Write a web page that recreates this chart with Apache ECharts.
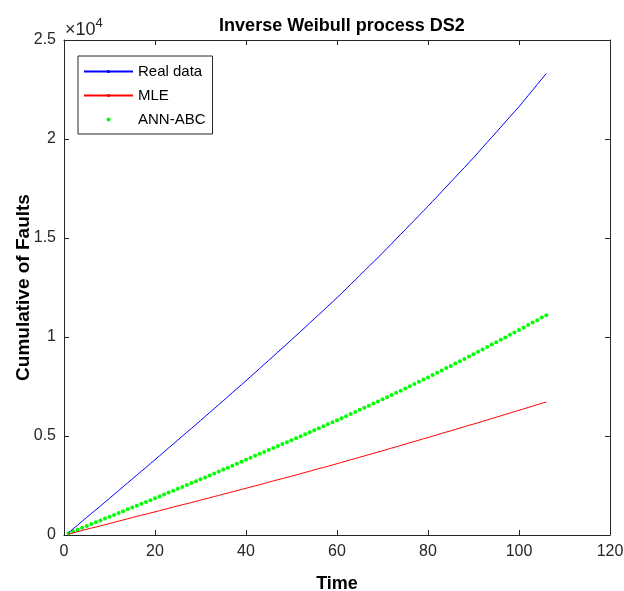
<!DOCTYPE html>
<html>
<head>
<meta charset="utf-8">
<script src="https://cdn.jsdelivr.net/npm/echarts@6/dist/echarts.min.js"></script>
<style>
html, body { margin: 0; padding: 0; background: #fff; }
#chart { width: 624px; height: 591px; }
</style>
</head>
<body>
<div id="chart"></div>
<script>
var times = [1, 2, 3, 4, 5, 6, 7, 8, 9, 10, 11, 12, 13, 14, 15, 16, 17, 18, 19, 20,
    21, 22, 23, 24, 25, 26, 27, 28, 29, 30, 31, 32, 33, 34, 35, 36, 37, 38, 39, 40,
    41, 42, 43, 44, 45, 46, 47, 48, 49, 50, 51, 52, 53, 54, 55, 56, 57, 58, 59, 60,
    61, 62, 63, 64, 65, 66, 67, 68, 69, 70, 71, 72, 73, 74, 75, 76, 77, 78, 79, 80,
    81, 82, 83, 84, 85, 86, 87, 88, 89, 90, 91, 92, 93, 94, 95, 96, 97, 98, 99, 100,
    101, 102, 103, 104, 105, 106];

var realData = [120, 310, 500, 700, 890, 1080, 1270, 1460, 1660, 1850,
    2050, 2240, 2440, 2630, 2830, 3020, 3220, 3410, 3610, 3800,
    4000, 4200, 4400, 4590, 4790, 4990, 5190, 5380, 5580, 5780,
    5980, 6180, 6380, 6580, 6780, 6980, 7190, 7390, 7590, 7790,
    8000, 8200, 8410, 8620, 8820, 9030, 9240, 9440, 9650, 9860,
    10070, 10280, 10490, 10710, 10920, 11130, 11340, 11560, 11770, 11980,
    12210, 12430, 12660, 12880, 13110, 13340, 13560, 13790, 14010, 14240,
    14480, 14710, 14950, 15190, 15420, 15660, 15890, 16130, 16370, 16600,
    16850, 17090, 17340, 17580, 17830, 18070, 18320, 18560, 18810, 19050,
    19310, 19570, 19830, 20080, 20340, 20600, 20860, 21120, 21380, 21630,
    21910, 22190, 22470, 22750, 23030, 23310];

var mle = [50, 110, 170, 230, 290, 350, 400, 460, 520, 580,
    640, 700, 760, 820, 880, 940, 1000, 1050, 1110, 1170,
    1230, 1290, 1350, 1410, 1470, 1530, 1580, 1640, 1700, 1760,
    1820, 1880, 1940, 2000, 2060, 2120, 2180, 2240, 2300, 2360,
    2420, 2480, 2540, 2600, 2670, 2730, 2790, 2850, 2910, 2970,
    3030, 3100, 3160, 3220, 3290, 3350, 3410, 3470, 3540, 3600,
    3670, 3730, 3800, 3860, 3930, 3990, 4060, 4120, 4190, 4250,
    4320, 4390, 4450, 4520, 4590, 4660, 4720, 4790, 4860, 4920,
    4990, 5060, 5130, 5200, 5260, 5330, 5400, 5470, 5540, 5600,
    5670, 5740, 5810, 5880, 5950, 6020, 6090, 6160, 6230, 6300,
    6370, 6440, 6510, 6580, 6650, 6720];

var annAbc = [90, 180, 270, 370, 460, 550, 640, 730, 830, 920,
    1010, 1110, 1200, 1300, 1390, 1480, 1580, 1670, 1760, 1860,
    1950, 2050, 2150, 2240, 2340, 2430, 2530, 2620, 2720, 2820,
    2910, 3010, 3110, 3210, 3310, 3400, 3500, 3600, 3700, 3800,
    3900, 4000, 4100, 4190, 4290, 4390, 4490, 4590, 4690, 4790,
    4890, 4990, 5090, 5190, 5290, 5390, 5490, 5590, 5690, 5790,
    5900, 6000, 6110, 6210, 6320, 6430, 6530, 6640, 6740, 6850,
    6960, 7070, 7180, 7290, 7400, 7510, 7630, 7740, 7850, 7960,
    8080, 8190, 8310, 8430, 8540, 8660, 8780, 8890, 9010, 9130,
    9250, 9370, 9490, 9620, 9740, 9860, 9980, 10110, 10230, 10350,
    10480, 10600, 10730, 10850, 10980, 11100];

function pairs(ys) {
    var out = [];
    for (var i = 0; i < times.length; i++) out.push([times[i], ys[i]]);
    return out;
}

var axisColor = '#262626';
var font = 'Liberation Sans, Arial, sans-serif';
var blue = '#0000ff', red = '#ff0000', green = '#00ff00';

var baseX = {
    type: 'value', min: 0, max: 120, interval: 20,
    axisLine: { show: true, onZero: false, lineStyle: { color: axisColor, width: 1 } },
    axisTick: { show: true, inside: true, length: 5, lineStyle: { color: axisColor } },
    splitLine: { show: false }
};
var baseY = {
    type: 'value', min: 0, max: 25000, interval: 5000,
    axisLine: { show: true, onZero: false, lineStyle: { color: axisColor, width: 1 } },
    axisTick: { show: true, inside: true, length: 5, lineStyle: { color: axisColor } },
    splitLine: { show: false }
};

var option = {
    animation: false,
    backgroundColor: '#fff',
    title: {
        text: 'Inverse Weibull process DS2',
        left: 337, top: 12, textAlign: 'center',
        textStyle: { fontFamily: font, fontSize: 18, fontWeight: 'bold', color: '#000' }
    },
    grid: { left: 64, right: 14, top: 40, bottom: 56, containLabel: false, outerBoundsMode: 'none' },
    legend: {
        orient: 'vertical', left: 78, top: 56,
        padding: [8, 7, 7, 5],
        itemWidth: 49, itemHeight: 4, itemGap: 9,
        borderColor: axisColor, borderWidth: 1,
        backgroundColor: '#fff',
        textStyle: { fontFamily: font, fontSize: 15, color: '#000', lineHeight: 15 },
        data: [
            { name: 'Real data' },
            { name: 'MLE' },
            { name: 'ANN-ABC', icon: 'circle' }
        ]
    },
    xAxis: [Object.assign({}, baseX, {
        position: 'bottom',
        name: 'Time', nameLocation: 'middle', nameGap: 40, nameMoveOverlap: false,
        nameTextStyle: { fontFamily: font, fontSize: 18, fontWeight: 'bold', color: '#000' },
        axisLabel: { margin: 9, fontFamily: font, fontSize: 16, color: axisColor }
    }), Object.assign({}, baseX, {
        position: 'top', axisLabel: { show: false }
    })],
    yAxis: [Object.assign({}, baseY, {
        position: 'left',
        name: 'Cumulative of Faults', nameLocation: 'middle', nameGap: 31, nameMoveOverlap: false,
        nameTextStyle: { fontFamily: font, fontSize: 19, fontWeight: 'bold', color: '#000' },
        axisLabel: {
            margin: 8, fontFamily: font, fontSize: 16, color: axisColor,
            formatter: function (v) { return String(v / 10000); }
        }
    }), Object.assign({}, baseY, {
        position: 'right', axisLabel: { show: false }
    })],
    graphic: [{
        type: 'text', left: 65, top: 17,
        style: {
            text: '{a|×10}{b|4}',
            rich: {
                a: { fontFamily: font, fontSize: 18, fill: axisColor, verticalAlign: 'bottom' },
                b: { fontFamily: font, fontSize: 13, fill: axisColor, verticalAlign: 'top', padding: [0, 0, 9, 0] }
            }
        }
    }],
    series: [{
        name: 'Real data', type: 'line', data: pairs(realData),
        symbol: 'none', lineStyle: { color: blue, width: 1 }, itemStyle: { color: blue }
    }, {
        name: 'MLE', type: 'line', data: pairs(mle),
        symbol: 'none', lineStyle: { color: red, width: 1 }, itemStyle: { color: red }
    }, {
        name: 'ANN-ABC', type: 'scatter', data: pairs(annAbc),
        symbol: 'circle', symbolSize: 4, itemStyle: { color: green, opacity: 1 }
    }]
};

var myChart = echarts.init(document.getElementById('chart'));
myChart.setOption(option);
</script>
</body>
</html>
